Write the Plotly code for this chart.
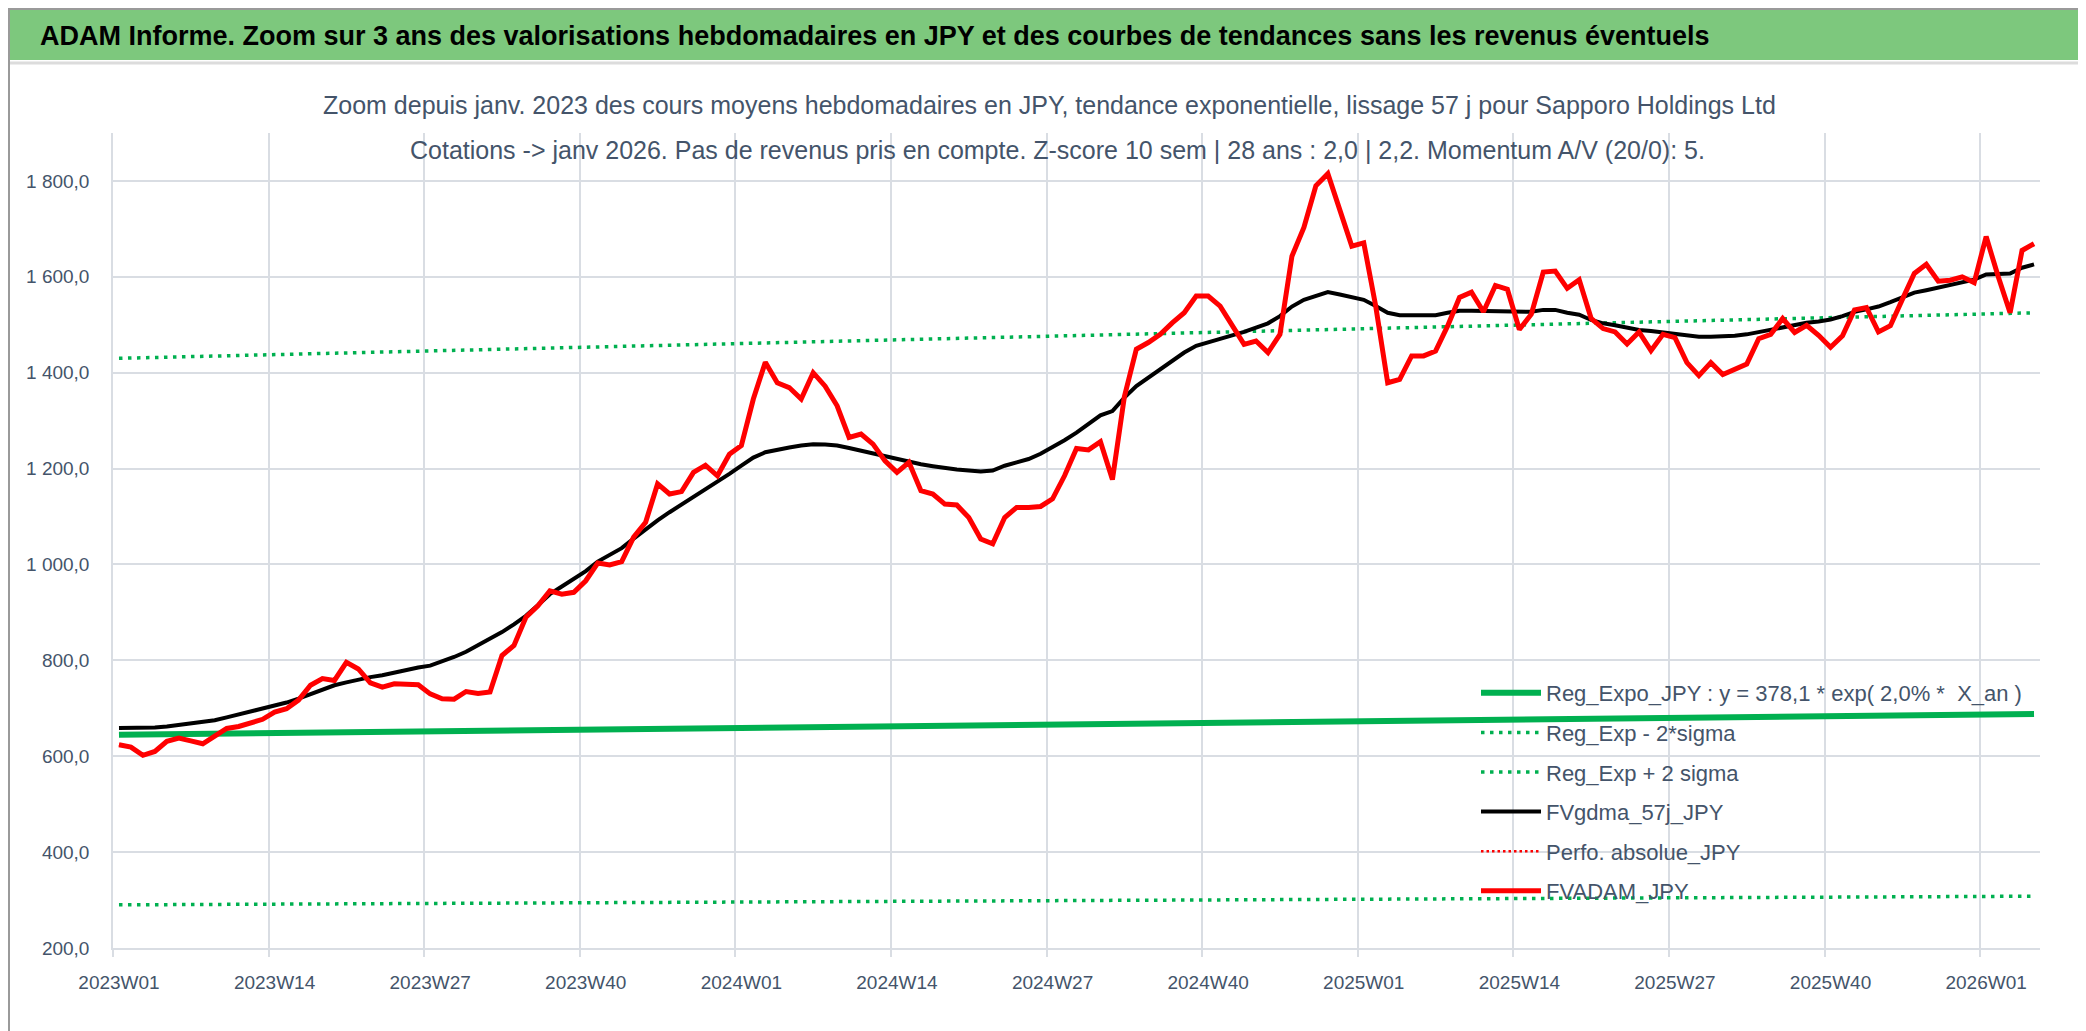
import plotly.graph_objects as go

# ---------------- data ----------------
years_weeks = [(2023, 52), (2024, 52), (2025, 52), (2026, 5)]
weeks = [f"{y}W{w:02d}" for y, n in years_weeks for w in range(1, n + 1)]

tick_labels = ["2023W01", "2023W14", "2023W27", "2023W40", "2024W01", "2024W14",
               "2024W27", "2024W40", "2025W01", "2025W14", "2025W27", "2025W40", "2026W01"]

fvadam_jpy = [
    624, 619, 602, 610, 631, 638, 632, 626, 642, 658, 662, 670, 677, 692, 699, 717, 748, 762, 758, 796,
    782, 753, 744, 751, 751, 749, 730, 720, 719, 735, 731, 734, 810, 831, 890, 914, 945, 938, 942, 966,
    1003, 999, 1006, 1057, 1088, 1168, 1147, 1152, 1192, 1207, 1185, 1230, 1248, 1345, 1422, 1379, 1369, 1345, 1400, 1372,
    1331, 1265, 1272, 1251, 1216, 1192, 1213, 1154, 1147, 1126, 1124, 1098, 1053, 1043, 1098, 1119, 1119, 1121, 1137, 1185,
    1242, 1239, 1256, 1177, 1350, 1449, 1463, 1480, 1504, 1525, 1560, 1560, 1539, 1497, 1459, 1466, 1442, 1480, 1643, 1703,
    1790, 1815, 1737, 1664, 1671, 1539, 1379, 1386, 1435, 1435, 1445, 1497, 1557, 1568, 1527, 1582, 1574, 1490, 1522, 1610,
    1612, 1576, 1594, 1513, 1492, 1485, 1460, 1485, 1446, 1480, 1473, 1421, 1394, 1421, 1396, 1406, 1418, 1471, 1480, 1513,
    1484, 1499, 1478, 1453, 1477, 1531, 1536, 1485, 1498, 1553, 1607, 1626, 1591, 1593, 1600, 1588, 1684, 1601, 1525, 1655,
    1669,
]

fvgdma_57j_jpy = [
    659, 659, 659, 660, 662, 665, 668, 671, 675, 681, 687, 693, 699, 705, 712, 720, 730, 739, 748, 754,
    760, 765, 769, 775, 780, 785, 789, 797, 807, 818, 831, 844, 859, 875, 893, 915, 938, 954, 969, 986,
    1006, 1020, 1034, 1054, 1074, 1092, 1109, 1125, 1140, 1156, 1171, 1189, 1206, 1223, 1234, 1240, 1244, 1248, 1251, 1250,
    1248, 1243, 1237, 1231, 1225, 1219, 1214, 1209, 1205, 1201, 1198, 1196, 1194, 1196, 1206, 1213, 1220, 1231, 1244, 1259,
    1275, 1292, 1311, 1320, 1348, 1372, 1390, 1407, 1424, 1442, 1456, 1464, 1472, 1478, 1485, 1494, 1503, 1518, 1538, 1552,
    1561, 1568, 1563, 1557, 1552, 1539, 1525, 1520, 1520, 1518, 1520, 1525, 1529, 1529, 1529, 1529, 1529, 1527, 1527, 1531,
    1531, 1525, 1521, 1510, 1503, 1499, 1494, 1489, 1487, 1484, 1480, 1477, 1475, 1475, 1475, 1477, 1480, 1485, 1491, 1496,
    1501, 1504, 1507, 1511, 1518, 1527, 1532, 1538, 1547, 1558, 1567, 1572, 1577, 1582, 1589, 1594, 1605, 1605, 1607, 1619,
    1626,
]

# exponential trend lines: values read at first and last week
reg_expo_jpy = [645, 688]
reg_minus_2sigma = [290, 308]
reg_plus_2sigma = [1430, 1525]

series_names = [
    "Reg_Expo_JPY : y = 378,1 * exp( 2,0% *  X_an )",
    "Reg_Exp - 2*sigma",
    "Reg_Exp + 2 sigma",
    "FVgdma_57j_JPY",
    "Perfo. absolue_JPY",
    "FVADAM_JPY",
]

title_text = "ADAM Informe. Zoom sur 3 ans des valorisations hebdomadaires en JPY et des courbes de tendances sans les revenus éventuels"
subtitle_1 = "Zoom depuis janv. 2023 des cours moyens hebdomadaires en JPY, tendance exponentielle, lissage 57 j pour Sapporo Holdings Ltd"
subtitle_2 = "Cotations -> janv 2026. Pas de revenus pris en compte. Z-score 10 sem | 28 ans : 2,0 | 2,2. Momentum A/V (20/0): 5."

# ---------------- layout geometry ----------------
W, H = 2086, 1031
L, R, T, B = 105, 54, 125, 91
PW, PH = W - L - R, H - T - B


def px(xp):
    return (xp - L) / PW


def py(yp):
    return 1 - (yp - T) / PH


FONT = "Liberation Sans, Arial, sans-serif"
TXT = "#44546a"
GRID = "#d9dde3"
GREEN = "#00b050"

x_idx = list(range(len(weeks)))
x_ends = [x_idx[0], x_idx[-1]]
major_pos = [weeks.index(t) for t in tick_labels]
boundary_pos = [p - 0.5 for p in major_pos]

fig = go.Figure()
fig.add_trace(go.Scatter(x=x_ends, y=reg_expo_jpy, mode="lines", name=series_names[0],
                         line=dict(color=GREEN, width=6), legendgroup="g0"))
fig.add_trace(go.Scatter(x=x_ends, y=reg_minus_2sigma, mode="lines", name=series_names[1],
                         line=dict(color=GREEN, width=3.5, dash="3.5px,5.5px"), legendgroup="g1"))
fig.add_trace(go.Scatter(x=x_ends, y=reg_plus_2sigma, mode="lines", name=series_names[2],
                         line=dict(color=GREEN, width=3.5, dash="3.5px,5.5px"), legendgroup="g2"))
fig.add_trace(go.Scatter(x=x_idx, y=fvgdma_57j_jpy, mode="lines", name=series_names[3],
                         line=dict(color="#000000", width=4), legendgroup="g3"))
fig.add_trace(go.Scatter(x=x_idx, y=fvadam_jpy, mode="lines", name=series_names[4],
                         line=dict(color="#ff0000", width=2.5, dash="2.5px,3px"), legendgroup="g4"))
fig.add_trace(go.Scatter(x=x_idx, y=fvadam_jpy, mode="lines", name=series_names[5],
                         line=dict(color="#ff0000", width=5), legendgroup="g5"))

fig.update_layout(
    width=W, height=H,
    margin=dict(l=L, r=R, t=T, b=B, pad=0),
    paper_bgcolor="white", plot_bgcolor="white",
    separators=", ",
    font=dict(family=FONT, color=TXT, size=20),
    showlegend=True,
    legend=dict(
        x=px(1468), y=py(664), xanchor="left", yanchor="top",
        bgcolor="rgba(0,0,0,0)", borderwidth=0,
        font=dict(family=FONT, size=22, color=TXT),
        itemwidth=60, traceorder="grouped", tracegroupgap=8,
    ),
    xaxis=dict(
        range=[-0.5, len(weeks) - 0.5],
        tickmode="array", tickvals=major_pos, ticktext=tick_labels,
        ticks="", showgrid=False, zeroline=False,
        tickfont=dict(family=FONT, size=19, color=TXT),
        showline=True, linecolor=GRID, linewidth=2,
        minor=dict(tickmode="array", tickvals=boundary_pos, ticks="outside", ticklen=7,
                   tickcolor=GRID, tickwidth=1.5, showgrid=True, gridcolor=GRID, gridwidth=1.5),
        ticklabelstandoff=16,
    ),
    yaxis=dict(
        range=[200, 1900],
        tickmode="linear", tick0=200, dtick=200,
        tickformat=",.1f",
        showgrid=True, gridcolor=GRID, gridwidth=2,
        zeroline=False, ticks="",
        showline=True, linecolor=GRID, linewidth=1.5,
        tickfont=dict(family=FONT, size=19, color=TXT),
        ticklabelstandoff=18,
    ),
)

# header bar, frame, separator line
fig.add_shape(type="rect", xref="paper", yref="paper",
              x0=px(0), x1=px(W), y0=py(52), y1=py(0),
              fillcolor="#7dc87d", line=dict(width=0), layer="below")
fig.add_shape(type="line", xref="paper", yref="paper",
              x0=px(0), x1=px(W), y0=py(55), y1=py(55),
              line=dict(color="#dcdcdc", width=3))
fig.add_shape(type="rect", xref="paper", yref="paper",
              x0=px(1), x1=px(W - 1), y0=py(H - 1), y1=py(1),
              line=dict(color="#9a9a9a", width=2))

fig.add_annotation(text=title_text, xref="paper", yref="paper",
                   x=px(30), y=py(28), xanchor="left", yanchor="middle", showarrow=False,
                   font=dict(family=FONT, size=27, color="#000000", weight="bold"))
fig.add_annotation(text=subtitle_1, xref="paper", yref="paper",
                   x=px(1041), y=py(97), xanchor="center", yanchor="middle", showarrow=False,
                   font=dict(family=FONT, size=25, color=TXT))
fig.add_annotation(text=subtitle_2, xref="paper", yref="paper",
                   x=px(1049), y=py(142), xanchor="center", yanchor="middle", showarrow=False,
                   font=dict(family=FONT, size=25, color=TXT))

fig.write_html("out.html")
